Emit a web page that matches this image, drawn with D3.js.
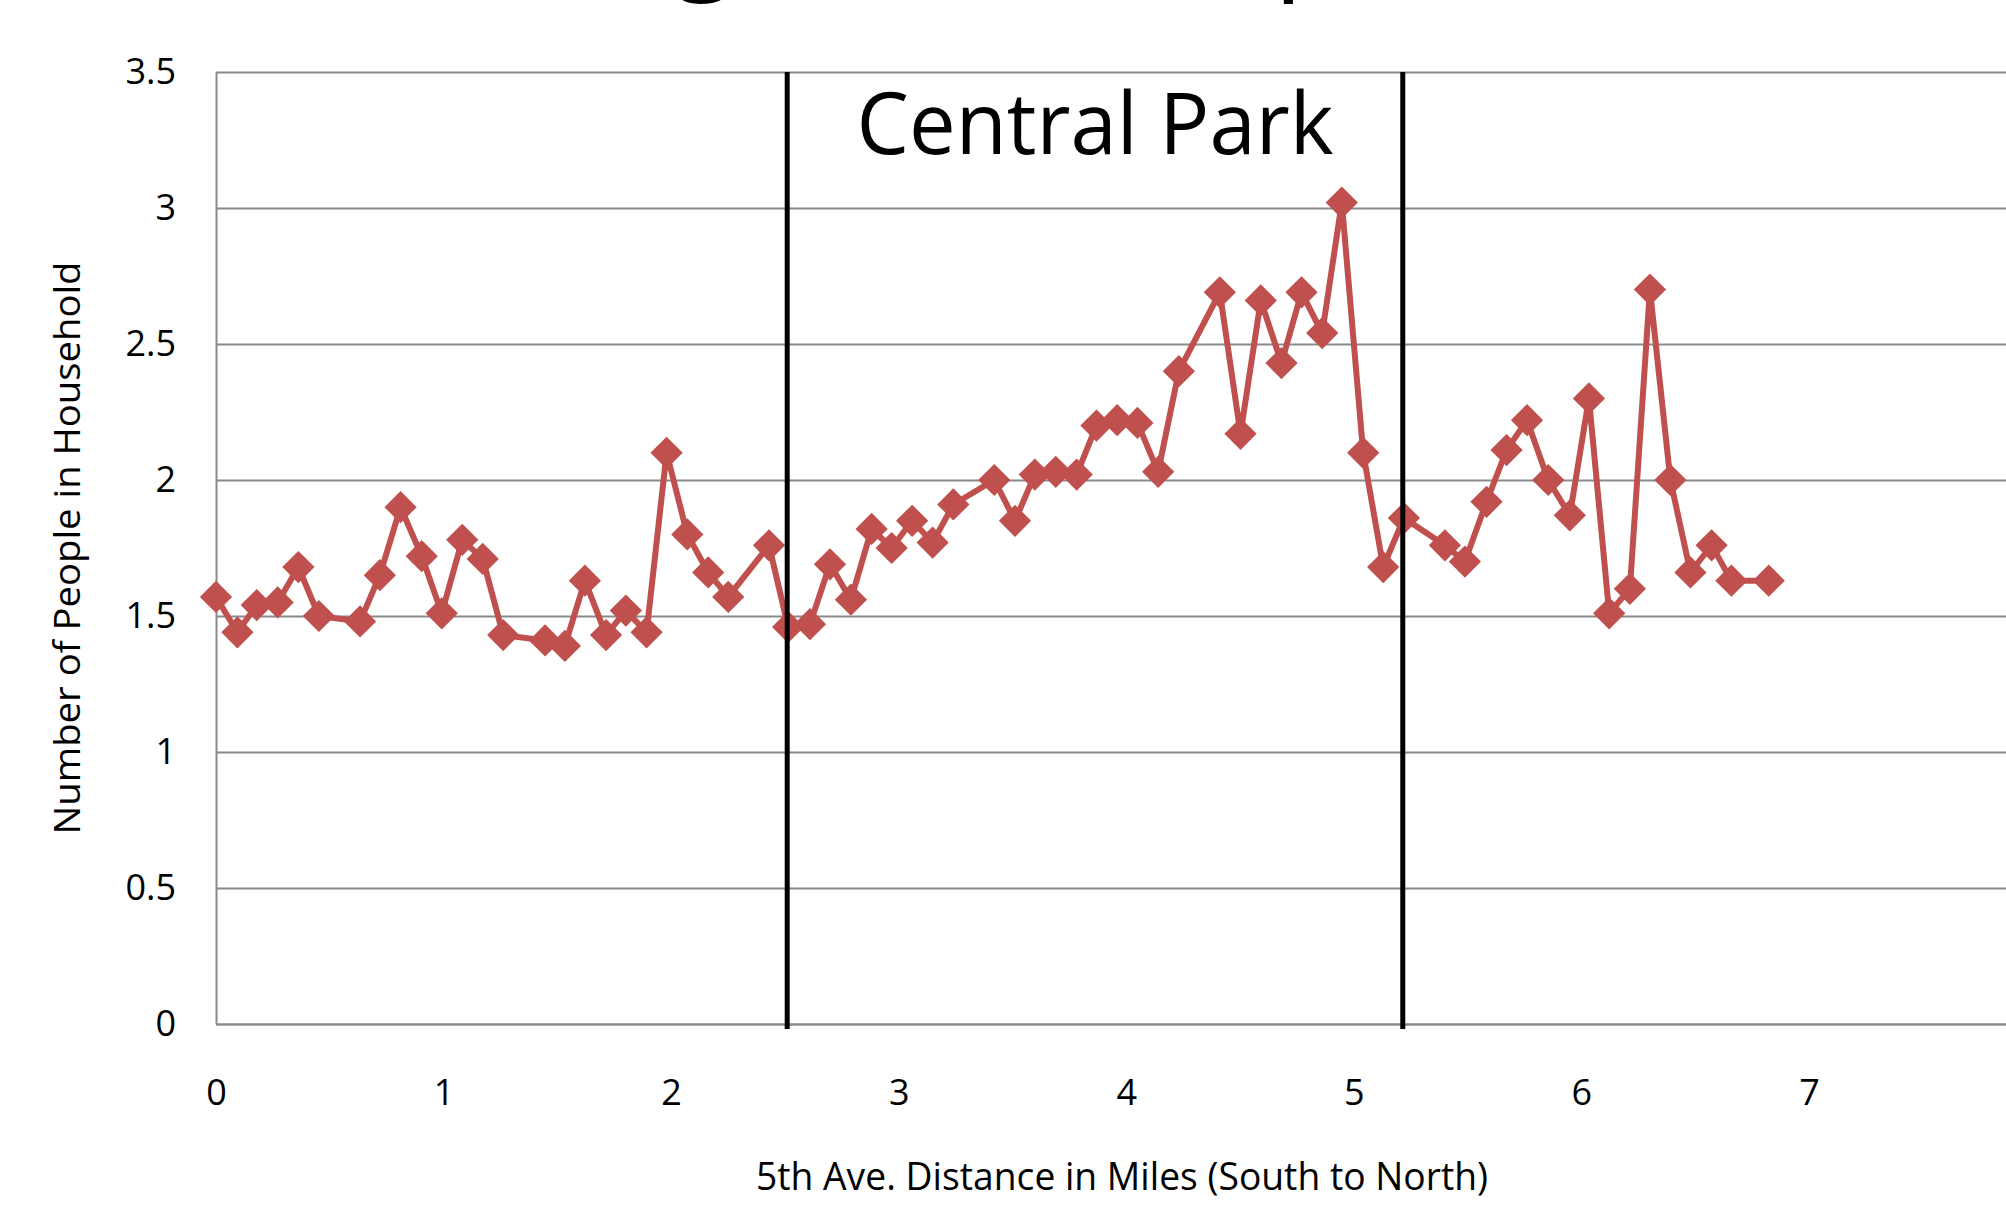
<!DOCTYPE html>
<html>
<head>
<meta charset="utf-8">
<script src="https://cdn.jsdelivr.net/npm/d3@7"></script>
<style>
  html, body { margin: 0; padding: 0; background: #fff; overflow: hidden; }
  text { fill: #000; }
</style>
</head>
<body>
<div id="chart"></div>
<script>
// data: distance up 5th Ave (miles) and average household size
var miles = [0, 0.094, 0.179, 0.271, 0.362, 0.452, 0.633, 0.72, 0.811, 0.904,
    0.992, 1.082, 1.172, 1.262, 1.446, 1.533, 1.621, 1.714, 1.801, 1.892,
    1.98, 2.071, 2.163, 2.251, 2.43, 2.514, 2.61, 2.698, 2.79, 2.881,
    2.969, 3.059, 3.149, 3.24, 3.42, 3.511, 3.598, 3.69, 3.782, 3.869,
    3.96, 4.049, 4.14, 4.231, 4.411, 4.502, 4.591, 4.682, 4.77, 4.861,
    4.947, 5.041, 5.129, 5.22, 5.4, 5.488, 5.583, 5.671, 5.761, 5.854,
    5.949, 6.033, 6.122, 6.213, 6.301, 6.391, 6.479, 6.572, 6.659, 6.823];
var people = [1.57, 1.44, 1.54, 1.55, 1.68, 1.50, 1.48, 1.65, 1.90, 1.72,
    1.51, 1.78, 1.71, 1.43, 1.41, 1.39, 1.63, 1.43, 1.52, 1.44,
    2.10, 1.80, 1.66, 1.57, 1.76, 1.46, 1.47, 1.69, 1.56, 1.82,
    1.75, 1.85, 1.77, 1.91, 2.00, 1.85, 2.02, 2.03, 2.02, 2.20,
    2.22, 2.21, 2.03, 2.40, 2.69, 2.17, 2.66, 2.43, 2.69, 2.54,
    3.02, 2.10, 1.68, 1.86, 1.76, 1.70, 1.92, 2.11, 2.22, 2.00,
    1.87, 2.30, 1.51, 1.60, 2.70, 2.00, 1.66, 1.76, 1.63, 1.63];
var parkEdges = [2.51, 5.215];
var xTicks = [0, 1, 2, 3, 4, 5, 6, 7];
var yTicks = [0, 0.5, 1, 1.5, 2, 2.5, 3, 3.5];

var width = 2006;
var height = 1209;

var svg = d3.select("#chart").append("svg")
    .attr("width", width)
    .attr("height", height);

var x = d3.scaleLinear().domain([0, 8]).range([216, 216 + 8 * 227.57]);
var y = d3.scaleLinear().domain([0, 3.5]).range([1024, 72]);

var red = "#C0504D";
var grey = "#8A8A8A";

// title, mostly cut off at the top of the picture (as in the source)
svg.append("text")
    .attr("x", 1212)
    .attr("y", -23)
    .attr("text-anchor", "middle")
    .style("font-family", "'Open Sans'")
    .style("font-size", "112px")
    .text("Average Persons per Household");

// y axis with gridlines
var yAxis = svg.append("g")
    .attr("transform", "translate(" + x(0) + ",0)")
    .call(d3.axisLeft(y)
        .tickValues(yTicks)
        .tickFormat(d3.format("~g"))
        .tickSize(-(x(8) - x(0)))
        .tickSizeOuter(0)
        .tickPadding(40));
yAxis.selectAll(".tick line").attr("stroke", grey).attr("stroke-width", 2);
yAxis.select(".domain").attr("stroke", grey).attr("stroke-width", 2);
yAxis.selectAll("text")
    .style("font-family", "'Open Sans'")
    .style("font-size", "36px");

// x axis
var xAxis = svg.append("g")
    .attr("transform", "translate(0," + y(0) + ")")
    .call(d3.axisBottom(x)
        .tickValues(xTicks)
        .tickFormat(d3.format("d"))
        .tickSize(0)
        .tickPadding(55));
xAxis.select(".domain").attr("stroke", grey).attr("stroke-width", 2);
xAxis.selectAll("text")
    .style("font-family", "'Open Sans'")
    .style("font-size", "36px");

// series
var pts = miles.map((m, i) => [m, people[i]]);

svg.append("path")
    .datum(pts)
    .attr("fill", "none")
    .attr("stroke", red)
    .attr("stroke-width", 6)
    .attr("stroke-linejoin", "round")
    .attr("d", d3.line().x(d => x(d[0])).y(d => y(d[1])));

svg.selectAll(".marker")
    .data(pts)
    .join("path")
    .attr("class", "marker")
    .attr("fill", red)
    .attr("transform", d => "translate(" + x(d[0]) + "," + y(d[1]) + ") rotate(45)")
    .attr("d", d3.symbol(d3.symbolSquare, 520));

// park boundaries
svg.selectAll(".edge")
    .data(parkEdges)
    .join("line")
    .attr("class", "edge")
    .attr("x1", d => x(d))
    .attr("x2", d => x(d))
    .attr("y1", y(3.5))
    .attr("y2", y(0) + 5)
    .attr("stroke", "#000")
    .attr("stroke-width", 5);

svg.append("text")
    .attr("x", (x(parkEdges[0]) + x(parkEdges[1])) / 2)
    .attr("y", 154)
    .attr("text-anchor", "middle")
    .attr("textLength", 477)
    .attr("lengthAdjust", "spacingAndGlyphs")
    .style("font-family", "'Open Sans'")
    .style("font-size", "86px")
    .text("Central Park");

// axis titles
svg.append("text")
    .attr("x", 1122)
    .attr("y", 1190)
    .attr("text-anchor", "middle")
    .attr("textLength", 732)
    .attr("lengthAdjust", "spacingAndGlyphs")
    .style("font-family", "'Open Sans'")
    .style("font-size", "38px")
    .text("5th Ave. Distance in Miles (South to North)");

svg.append("text")
    .attr("transform", "translate(80,548) rotate(-90)")
    .attr("text-anchor", "middle")
    .attr("textLength", 573)
    .attr("lengthAdjust", "spacingAndGlyphs")
    .style("font-family", "'Open Sans'")
    .style("font-size", "37px")
    .text("Number of People in Household");
</script>
</body>
</html>
